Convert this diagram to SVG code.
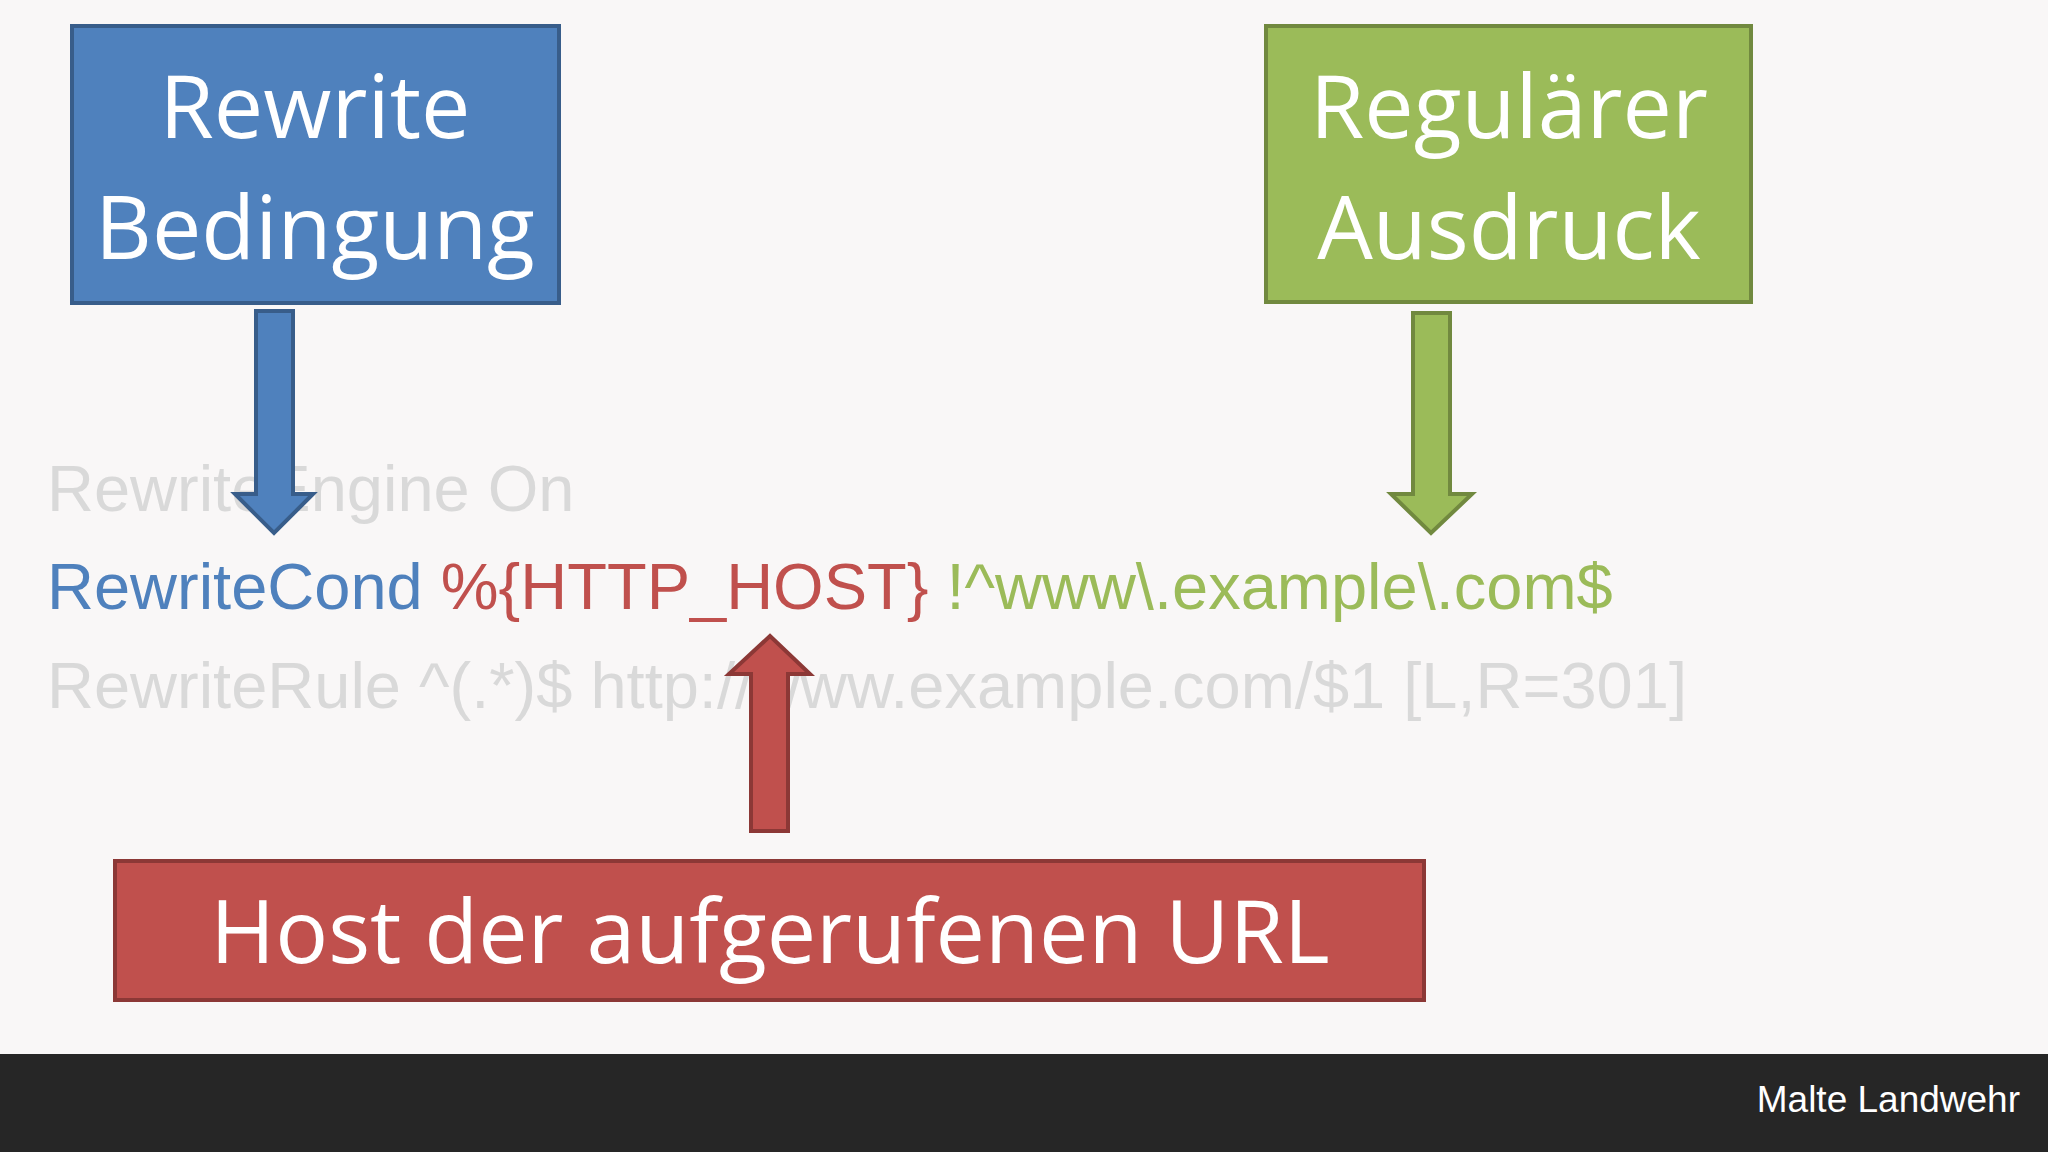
<svg xmlns="http://www.w3.org/2000/svg" width="2048" height="1152" viewBox="0 0 2048 1152">
<style>
.box{stroke-width:4}
.lbl{font-family:"Open Sans","Liberation Sans",sans-serif;font-size:88px;fill:#fff;text-anchor:middle}
.code{font-family:"Liberation Sans",Arial,sans-serif;font-size:65px}
.arr{stroke-width:4;stroke-linejoin:miter}
</style>
<rect width="2048" height="1152" fill="#f9f7f7"/>
<g id="code">
<text class="code" x="47" y="511" fill="#d9d9d9">RewriteEngine On</text>
<text class="code" x="47" y="609"><tspan fill="#4f81bd">RewriteCond</tspan> <tspan fill="#c0504d">%{HTTP_HOST}</tspan> <tspan fill="#9bbb59">!^www\.example\.com$</tspan></text>
<text class="code" x="47" y="708" fill="#d9d9d9">RewriteRule ^(.*)$ http://www.example.com/$1 [L,R=301]</text>
</g>
<g id="blueBox"><rect class="box" x="72" y="26" width="487" height="277" fill="#4f81bd" stroke="#385d8a"/>
<text class="lbl" x="315" y="138">Rewrite</text><text class="lbl" x="315" y="259">Bedingung</text></g>
<g id="greenBox"><rect class="box" x="1266" y="26" width="485" height="276" fill="#9bbb59" stroke="#71893f"/>
<text class="lbl" x="1509" y="138">Regulärer</text><text class="lbl" x="1509" y="259">Ausdruck</text></g>
<g id="redBox"><rect class="box" x="115" y="861" width="1309" height="139" fill="#c0504d" stroke="#8c3836"/>
<text class="lbl" x="770" y="963">Host der aufgerufenen URL</text></g>
<g id="connectors">
<polygon class="arr" points="256,311 293,311 293,494 313,494 274,533 235,494 256,494" fill="#4f81bd" stroke="#385d8a"/>
<polygon class="arr" points="1413,313 1450,313 1450,494 1472,494 1431,533 1391,494 1413,494" fill="#9bbb59" stroke="#71893f"/>
<polygon class="arr" points="751,831 788,831 788,674 810,674 770,636 729,674 751,674" fill="#c0504d" stroke="#8c3836"/>
</g>
<g id="footer"><rect x="0" y="1054" width="2048" height="98" fill="#262626"/>
<text x="2020" y="1112" font-family="Liberation Sans,Arial,sans-serif" font-size="37" fill="#fff" text-anchor="end">Malte Landwehr</text></g>
</svg>
